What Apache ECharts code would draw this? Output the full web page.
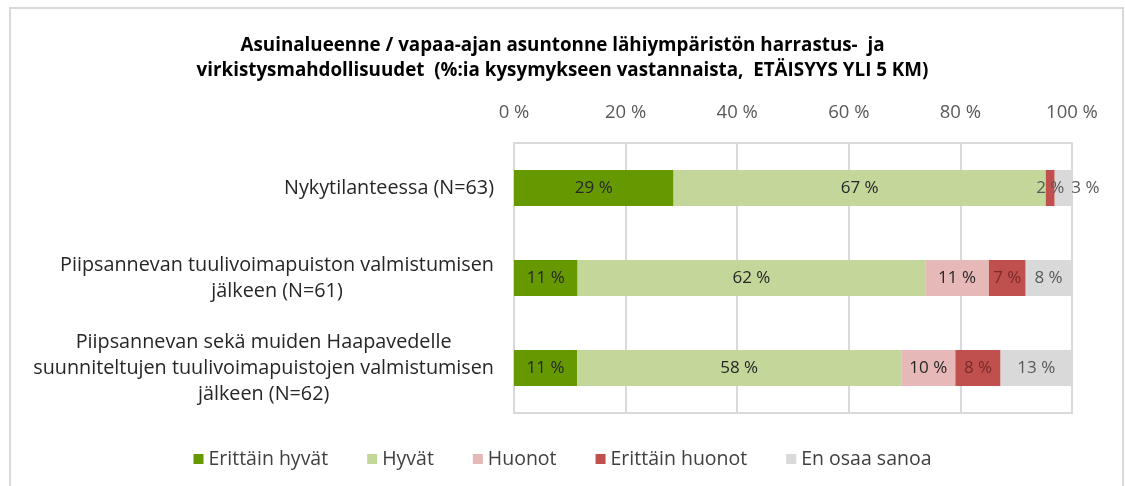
<!DOCTYPE html>
<html>
<head>
<meta charset="utf-8">
<script src="https://cdn.jsdelivr.net/npm/echarts@6/dist/echarts.min.js"></script>
<style>
  html, body { margin: 0; padding: 0; background: #fff; }
  #chart { width: 1125px; height: 486px; }
</style>
</head>
<body>
<div id="chart"></div>
<script>
var categories = [
  'Nykytilanteessa (N=63)',
  'Piipsannevan tuulivoimapuiston valmistumisen\njälkeen (N=61)',
  'Piipsannevan sekä muiden Haapavedelle\nsuunniteltujen tuulivoimapuistojen valmistumisen\njälkeen (N=62)'
];
var seriesNames = ['Erittäin hyvät', 'Hyvät', 'Huonot', 'Erittäin huonot', 'En osaa sanoa'];
var erittainHyvat = [28.6, 11.4, 11.3];
var hyvat = [66.7, 62.3, 58.1];
var huonot = [0, 11.4, 9.7];
var erittainHuonot = [1.6, 6.6, 8.1];
var enOsaaSanoa = [3.1, 8.2, 12.8];
var xTicks = [0, 20, 40, 60, 80, 100];

var colors = ['#669900', '#c4d79b', '#e6b9b8', '#c0504d', '#d9d9d9'];
var labelColors = ['#262626', '#262626', '#262626', '#7a2a28', '#595959'];
var font = '"Open Sans", Lato, sans-serif';

var chart = echarts.init(document.getElementById('chart'));

function makeSeries(idx, data) {
  return {
    name: seriesNames[idx],
    type: 'bar',
    stack: 'total',
    barWidth: 36,
    itemStyle: { color: colors[idx] },
    label: {
      show: true,
      position: 'inside',
      color: labelColors[idx],
      fontFamily: font,
      fontSize: 17,
      formatter: function (p) {
        return p.value > 0 ? Math.round(p.value) + ' %' : '';
      }
    },
    data: data.map(function (v, i) {
      // small segments in the first row: first label greyed, last moved outside the bar
      if (idx === 3 && i === 0) {
        return { value: v, label: { color: '#595959' } };
      }
      if (idx === 4 && i === 0) {
        return { value: v, label: { offset: [22, 0] } };
      }
      return v;
    })
  };
}

var option = {
  animation: false,
  textStyle: { fontFamily: font },
  graphic: [{
    type: 'rect',
    shape: { x: 10, y: 8, width: 1113, height: 490 },
    style: { fill: 'none', stroke: '#d9d9d9', lineWidth: 2 },
    silent: true
  }],
  title: {
    text: 'Asuinalueenne / vapaa-ajan asuntonne lähiympäristön harrastus-  ja\nvirkistysmahdollisuudet  (%:ia kysymykseen vastannaista,  ETÄISYYS YLI 5 KM)',
    left: 'center',
    top: 28,
    textStyle: {
      fontFamily: font,
      fontSize: 18.8,
      fontWeight: 'bold',
      color: '#000',
      lineHeight: 25
    }
  },
  legend: {
    bottom: 12,
    left: 'center',
    icon: 'rect',
    itemWidth: 10,
    itemHeight: 10,
    itemGap: 39,
    textStyle: { fontFamily: font, fontSize: 19.5, color: '#404040' },
    data: seriesNames
  },
  grid: {
    left: 514,
    right: 53,
    top: 143,
    bottom: 73,
    show: true,
    borderColor: '#d9d9d9',
    borderWidth: 2
  },
  xAxis: {
    type: 'value',
    position: 'top',
    min: xTicks[0],
    max: xTicks[xTicks.length - 1],
    interval: 20,
    axisLine: { show: false },
    axisTick: { show: false },
    splitLine: { lineStyle: { color: '#d9d9d9', width: 2 } },
    axisLabel: {
      fontFamily: font,
      fontSize: 18.5,
      color: '#595959',
      margin: 21,
      formatter: '{value} %'
    }
  },
  yAxis: {
    type: 'category',
    inverse: true,
    data: categories,
    axisLine: { show: false },
    axisTick: { show: false },
    axisLabel: {
      margin: 20,
      formatter: function (v) { return '{c|' + v + '}'; },
      rich: {
        c: {
          align: 'center',
          fontFamily: font,
          fontSize: 19.8,
          lineHeight: 26,
          color: '#262626'
        }
      }
    }
  },
  series: [
    makeSeries(0, erittainHyvat),
    makeSeries(1, hyvat),
    makeSeries(2, huonot),
    makeSeries(3, erittainHuonot),
    makeSeries(4, enOsaaSanoa)
  ]
};

chart.setOption(option);
</script>
</body>
</html>
